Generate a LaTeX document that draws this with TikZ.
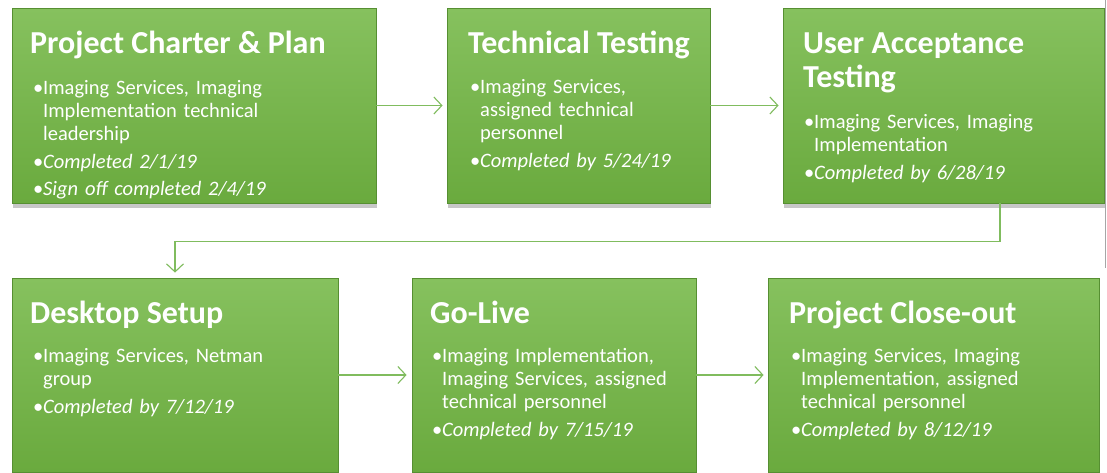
\documentclass[tikz,border=0pt]{standalone}
\usepackage{fontspec}
\setmainfont{Carlito}
\usetikzlibrary{arrows.meta, positioning, shadows}

\definecolor{boxtop}{RGB}{134,193,94}
\definecolor{boxbot}{RGB}{106,170,62}
\definecolor{boxedge}{RGB}{86,143,50}
\definecolor{linkgreen}{RGB}{128,188,94}

\newcommand{\itm}[1]{\par\noindent\makebox[10pt][l]{\textbullet}\begin{tabular}[t]{@{}l@{}}#1\end{tabular}\par\vspace{4.5pt}}

\begin{document}
\begin{tikzpicture}[x=1pt, y=-1pt,
  stage/.style={rectangle, top color=boxtop, bottom color=boxbot, draw=boxedge, line width=0.8pt,
    drop shadow={shadow xshift=1pt, shadow yshift=-5pt, opacity=0.22, fill=black}},
  title/.style={anchor=base west, inner sep=0pt, text=white, align=left,
    font=\fontsize{32}{34}\selectfont\bfseries},
  body/.style={anchor=north west, inner sep=0pt, text=white, text width=300pt,
    font=\fontsize{20.5}{22.6}\selectfont},
  link/.style={draw=linkgreen, line width=1.1pt, -{Straight Barb[length=8pt, width=17pt]}}]
\useasboundingbox (0,0) rectangle (1107,472);
\clip (0,0) rectangle (1107,472);
\fill[white] (0,0) rectangle (1107,472);

\node[stage, minimum width=364pt, minimum height=195pt] (charter) at (194,105.5) {};
\node[stage, minimum width=263pt, minimum height=195pt] (techtest) at (578.5,105.5) {};
\node[stage, minimum width=321pt, minimum height=195pt] (uat) at (943.5,105.5) {};
\node[stage, minimum width=326pt, minimum height=194pt] (desktop) at (175,375) {};
\node[stage, minimum width=284pt, minimum height=194pt] (golive) at (554,375) {};
\node[stage, minimum width=331pt, minimum height=194pt] (closeout) at (933.5,375) {};

\node[title] (charter-t) at (30,53) {Project Charter \& Plan};
\node[body] (charter-b) at (33,72) {\itm{Imaging Services, Imaging\\Implementation technical\\leadership}\itm{\itshape Completed 2/1/19}\itm{\itshape Sign off completed 2/4/19}};

\node[title] (techtest-t) at (468,53) {Technical Testing};
\node[body] (techtest-b) at (470,71) {\itm{Imaging Services,\\assigned technical\\personnel}\itm{\itshape Completed by 5/24/19}};

\node[title] (uat-t) at (803,87) {User Acceptance\\Testing};
\node[body] (uat-b) at (804,106) {\itm{Imaging Services, Imaging\\Implementation}\itm{\itshape Completed by 6/28/19}};

\node[title] (desktop-t) at (30,323) {Desktop Setup};
\node[body] (desktop-b) at (33,340) {\itm{Imaging Services, Netman\\group}\itm{\itshape Completed by 7/12/19}};

\node[title] (golive-t) at (430,323) {Go-Live};
\node[body] (golive-b) at (432,340) {\itm{Imaging Implementation,\\Imaging Services, assigned\\technical personnel}\itm{\itshape Completed by 7/15/19}};

\node[title] (closeout-t) at (789,323) {Project Close-out};
\node[body] (closeout-b) at (791,340) {\itm{Imaging Services, Imaging\\Implementation, assigned\\technical personnel}\itm{\itshape Completed by 8/12/19}};

\draw[link, shorten >=4pt] (charter) -- (techtest);
\draw[link, shorten >=4pt] (techtest) -- (uat);
\draw[link, shorten >=5pt] ([xshift=56.5pt]uat.south) -- ++(0,38) -| (desktop.north);
\draw[link, shorten >=5pt] (desktop) -- (golive);
\draw[link, shorten >=4pt] (golive) -- (closeout);

\draw[gray!70, line width=0.8pt] (1105,0) -- (1105,268);
\end{tikzpicture}
\end{document}
